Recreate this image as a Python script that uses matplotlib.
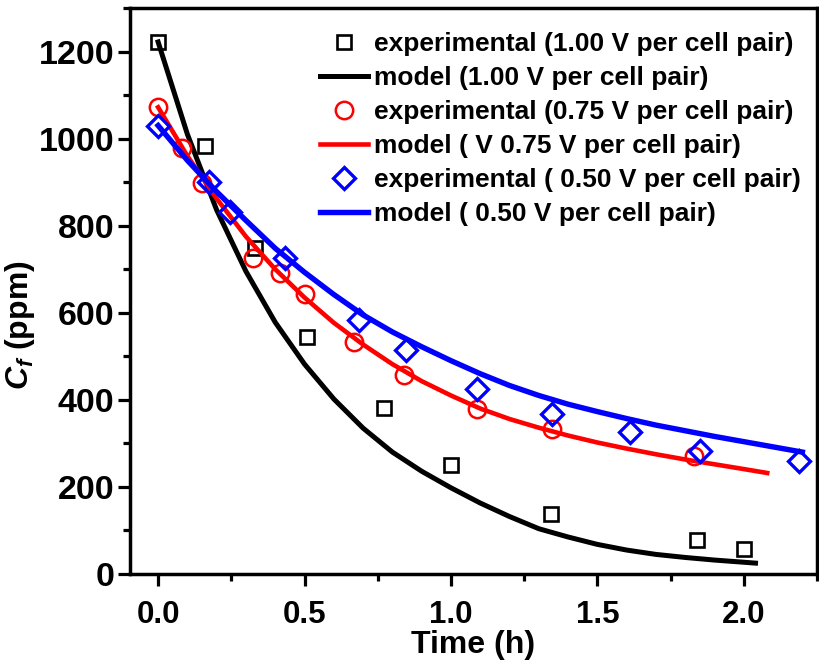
import numpy as np
import matplotlib
matplotlib.use("Agg")
import matplotlib.pyplot as plt
from matplotlib.ticker import MultipleLocator

plt.rcParams['font.family'] = ['Liberation Sans', 'DejaVu Sans']
plt.rcParams['font.weight'] = 'bold'
plt.rcParams['mathtext.fontset'] = 'custom'
plt.rcParams['mathtext.rm'] = 'Liberation Sans:bold'
plt.rcParams['mathtext.bf'] = 'Liberation Sans:bold'
plt.rcParams['mathtext.it'] = 'Liberation Sans:bold:italic'
plt.rcParams['mathtext.bfit'] = 'Liberation Sans:bold:italic'

# measured feed concentration (ppm) vs time (h)
t_100 = [0.0, 0.16, 0.33, 0.51, 0.77, 1.00, 1.34, 1.84, 2.00]
c_100 = [1222, 983, 749, 545, 382, 251, 138, 77, 58]

t_075 = [0.0, 0.08, 0.15, 0.325, 0.415, 0.50, 0.67, 0.84, 1.09, 1.345, 1.83]
c_075 = [1073, 979, 898, 726, 692, 642, 534, 458, 380, 334, 272]

t_050 = [0.0, 0.175, 0.245, 0.435, 0.687, 0.845, 1.09, 1.345, 1.61, 1.85, 2.19]
c_050 = [1030, 901, 832, 726, 584, 515, 425, 368, 326, 283, 260]

# model curves
tm_100 = [0.0, 0.1, 0.2, 0.3, 0.4, 0.5, 0.6, 0.7, 0.8, 0.9, 1.0, 1.1, 1.2,
          1.3, 1.4, 1.5, 1.6, 1.7, 1.8, 1.9, 2.0, 2.04]
cm_100 = [1222, 1010, 836, 695, 578, 482, 402, 335, 280, 236, 198, 163, 132,
          104, 85, 68, 55, 45, 38, 32, 27, 25]

tm_075 = [0.0, 0.1, 0.2, 0.3, 0.4, 0.5, 0.6, 0.7, 0.8, 0.9, 1.0, 1.1, 1.2,
          1.3, 1.4, 1.5, 1.6, 1.7, 1.8, 1.9, 2.0, 2.08]
cm_075 = [1072, 960, 862, 775, 700, 635, 577, 527, 482, 443, 410, 380, 356,
          336, 318, 302, 288, 275, 263, 252, 241, 232]

tm_050 = [0.0, 0.1, 0.2, 0.3, 0.4, 0.5, 0.6, 0.7, 0.8, 0.9, 1.0, 1.1, 1.2,
          1.3, 1.4, 1.5, 1.6, 1.7, 1.8, 1.9, 2.0, 2.1, 2.2]
cm_050 = [1030, 950, 878, 812, 748, 693, 642, 595, 556, 522, 490, 460, 433,
          410, 390, 373, 357, 342, 329, 316, 304, 292, 280]

fig = plt.figure(figsize=(8.19, 6.63), dpi=100)
ax = fig.add_axes([130 / 819, 1 - 574 / 663, 687 / 819, 566 / 663])

ax.plot(t_100, c_100, 's', ms=10, mfc='none', mec='black', mew=1.9,
        label='experimental (1.00 V per cell pair)')
ax.plot(tm_100, cm_100, '-', color='black', lw=3.6,
        label='model (1.00 V per cell pair)')
ax.plot(t_075, c_075, 'o', ms=12.5, mfc='none', mec='red', mew=1.8,
        label='experimental (0.75 V per cell pair)')
ax.plot(tm_075, cm_075, '-', color='red', lw=3.3,
        label='model ( V 0.75 V per cell pair)')
ax.plot(t_050, c_050, 'D', ms=11, mfc='none', mec='blue', mew=2.4,
        label='experimental ( 0.50 V per cell pair)')
ax.plot(tm_050, cm_050, '-', color='blue', lw=3.9,
        label='model ( 0.50 V per cell pair)')

ax.set_xlim(-0.096, 2.25)
ax.set_ylim(0, 1300)
ax.xaxis.set_major_locator(MultipleLocator(0.5))
ax.xaxis.set_minor_locator(MultipleLocator(0.25))
ax.yaxis.set_major_locator(MultipleLocator(200))
ax.yaxis.set_minor_locator(MultipleLocator(100))
ax.xaxis.set_major_formatter(plt.FuncFormatter(lambda v, p: f'{v:.1f}'))

for s in ax.spines.values():
    s.set_linewidth(2.5)
ax.tick_params(which='both', direction='out', width=2.3, top=False, right=False)
ax.tick_params(which='major', length=8.5)
ax.tick_params(which='minor', length=5)
ax.tick_params(axis='x', labelsize=22.5, pad=10)
ax.tick_params(axis='y', labelsize=24.5, pad=3)

ax.set_xlabel('Time (h)', fontsize=23, fontweight='bold', labelpad=0)
ax.set_ylabel(r'$C_{\mathit{f}}$ (ppm)', fontsize=23, fontweight='bold')
ax.yaxis.set_label_coords(-0.135, 0.44)

ax.legend(loc='upper left', bbox_to_anchor=(0.2766, 0.957), frameon=False,
          fontsize=19, handlelength=1.8, handletextpad=0.25,
          labelspacing=0.38, borderpad=0, borderaxespad=0)

fig.savefig('out.png', dpi=100)
